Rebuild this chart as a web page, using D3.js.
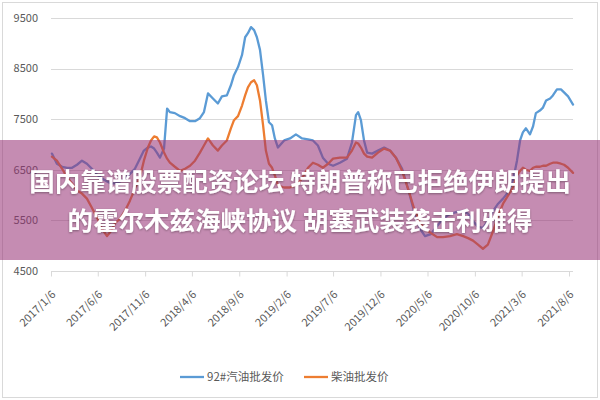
<!DOCTYPE html>
<html>
<head>
<meta charset="utf-8">
<script src="https://cdn.jsdelivr.net/npm/d3@7"></script>
<style>
html,body{margin:0;padding:0;background:#fff;}
svg{display:block;}
</style>
</head>
<body>
<svg id="chart" width="600" height="400"></svg>
<script>
// ---- data ----
const dates = ["2017-01-09","2017-01-25","2017-02-11","2017-02-27","2017-03-15","2017-03-31","2017-04-16","2017-05-02","2017-05-18","2017-06-04","2017-06-20","2017-07-06","2017-07-19","2017-08-01","2017-08-17","2017-09-02","2017-09-18","2017-10-04","2017-10-20","2017-11-02","2017-11-15","2017-11-25","2017-12-05","2017-12-14","2017-12-24","2018-01-06","2018-01-16","2018-01-25","2018-02-10","2018-02-27","2018-03-15","2018-03-31","2018-04-16","2018-05-02","2018-05-15","2018-05-28","2018-06-13","2018-06-29","2018-07-12","2018-07-28","2018-08-10","2018-08-20","2018-09-02","2018-09-15","2018-09-25","2018-10-04","2018-10-14","2018-10-24","2018-11-02","2018-11-12","2018-11-22","2018-12-01","2018-12-11","2018-12-21","2018-12-30","2019-01-09","2019-01-29","2019-02-17","2019-03-08","2019-03-28","2019-04-16","2019-05-02","2019-05-18","2019-06-03","2019-06-20","2019-07-06","2019-07-28","2019-08-20","2019-09-05","2019-09-18","2019-09-25","2019-10-04","2019-10-14","2019-10-24","2019-11-09","2019-11-28","2019-12-18","2020-01-06","2020-01-25","2020-02-14","2020-03-04","2020-03-23","2020-04-12","2020-04-28","2020-05-17","2020-06-06","2020-06-25","2020-07-18","2020-08-09","2020-08-29","2020-09-14","2020-09-30","2020-10-16","2020-11-01","2020-11-17","2020-12-04","2020-12-20","2021-01-05","2021-01-21","2021-02-06","2021-02-19","2021-03-01","2021-03-10","2021-03-20","2021-04-02","2021-04-12","2021-04-21","2021-05-04","2021-05-14","2021-05-24","2021-06-06","2021-06-15","2021-06-28","2021-07-11","2021-07-21","2021-08-03","2021-08-19"];

const gasoline92 = [6820,6620,6560,6540,6540,6600,6680,6620,6520,6400,6330,6270,6230,6230,6270,6330,6420,6520,6720,6880,6940,6960,6920,6840,6740,6920,7710,7640,7620,7560,7520,7460,7460,7520,7640,8010,7910,7810,7950,7970,8170,8370,8530,8770,9120,9200,9320,9260,9120,8870,8370,7870,7440,7380,7120,6940,7080,7120,7200,7120,7100,7080,6980,6740,6620,6580,6640,6720,7040,7580,7640,7480,7080,6840,6820,6880,6940,6880,6740,6520,6130,5690,5330,5190,5230,5390,5530,5630,5670,5690,5630,5490,5370,5350,5490,5690,5830,5930,6050,6290,6680,7080,7240,7320,7200,7360,7620,7670,7730,7870,7910,7970,8090,8090,8030,7950,7790];

const diesel = [6760,6680,6520,6350,6230,6090,6030,5930,5750,5550,5330,5190,5290,5450,5530,5690,5890,6130,6350,6680,6940,7080,7160,7140,7040,6840,6720,6640,6560,6480,6520,6580,6680,6840,6980,7120,6980,6880,6980,7080,7320,7480,7560,7770,7970,8130,8230,8270,8170,7870,7380,6880,6620,6540,6390,6190,6150,6150,6190,6330,6540,6640,6600,6540,6620,6720,6740,6740,6880,7040,7020,6940,6820,6760,6740,6840,6920,6880,6740,6480,6130,5750,5450,5330,5250,5170,5170,5190,5230,5190,5150,5100,5020,4940,5020,5290,5590,5830,5990,6150,6390,6480,6540,6500,6480,6540,6560,6560,6580,6580,6620,6640,6640,6620,6600,6540,6440];

const tickLabels = ["2017/1/6","2017/6/6","2017/11/6","2018/4/6","2018/9/6","2019/2/6","2019/7/6","2019/12/6","2020/5/6","2020/10/6","2021/3/6","2021/8/6"];
const yTicks = [4500,5500,6500,7500,8500,9500];
const seriesNames = ["92#汽油批发价","柴油批发价"];
const seriesColors = ["#5b9bd5","#ed7d31"];
const titleLines = ["国内靠谱股票配资论坛 特朗普称已拒绝伊朗提出","的霍尔木兹海峡协议 胡塞武装袭击利雅得"];

// ---- drawing ----
const svg = d3.select("#chart");
const parse = d3.timeParse("%Y-%m-%d");
const parseTick = d3.timeParse("%Y/%m/%d");
const tickDates = tickLabels.map(parseTick);

svg.append("rect").attr("x",2.5).attr("y",2.5).attr("width",595).attr("height",395)
  .attr("fill","#fff").attr("stroke","#d9d9d9").attr("stroke-width",1);

const x = d3.scaleTime().domain([tickDates[0], tickDates[tickDates.length-1]]).range([51, 569]);
const y = d3.scaleLinear().domain([4500, 9500]).range([271, 18]);
const xEnd = 573;

// gridlines
svg.append("g").selectAll("line").data(yTicks).join("line")
  .attr("x1",51).attr("x2",xEnd)
  .attr("y1",d=>Math.round(y(d))+0.5).attr("y2",d=>Math.round(y(d))+0.5)
  .attr("stroke","#d9d9d9").attr("stroke-width",1);

// y labels
svg.append("g").selectAll("text").data(yTicks).join("text")
  .attr("x",38).attr("y",d=>y(d)).attr("dy","0.35em")
  .attr("text-anchor","end")
  .attr("font-family","'Noto Sans CJK SC','Noto Sans',sans-serif")
  .attr("font-size",11).attr("fill","#595959")
  .text(d=>d);

// x axis
const xAxis = d3.axisBottom(x).tickValues(tickDates).tickSize(5).tickFormat((d,i)=>tickLabels[i]);
const gx = svg.append("g").attr("transform",`translate(0,${Math.round(y(4500))+0.5})`).call(xAxis);
gx.select(".domain").remove();
gx.selectAll(".tick line").attr("stroke","#d9d9d9");
gx.selectAll(".tick text")
  .attr("font-family","'Noto Sans CJK SC','Noto Sans',sans-serif")
  .attr("font-size",11).attr("fill","#595959")
  .attr("text-anchor","end")
  .attr("y",0).attr("dy","0.35em")
  .attr("transform","translate(2,21) rotate(-45)");

const data = dates.map((d,i)=>({date:parse(d), g:gasoline92[i], c:diesel[i]}));

const lineG = d3.line().x(d=>x(d.date)).y(d=>y(d.g)).curve(d3.curveLinear);
const lineC = d3.line().x(d=>x(d.date)).y(d=>y(d.c)).curve(d3.curveLinear);

svg.append("path").datum(data).attr("d",lineG).attr("fill","none")
  .attr("stroke",seriesColors[0]).attr("stroke-width",2.3)
  .attr("stroke-linejoin","round").attr("stroke-linecap","round");
svg.append("path").datum(data).attr("d",lineC).attr("fill","none")
  .attr("stroke",seriesColors[1]).attr("stroke-width",2.3)
  .attr("stroke-linejoin","round").attr("stroke-linecap","round");

// legend
const legendItems = [{x:180,label:seriesNames[0],color:seriesColors[0]},{x:304,label:seriesNames[1],color:seriesColors[1]}];
const lg = svg.append("g");
legendItems.forEach(it=>{
  lg.append("line").attr("x1",it.x).attr("x2",it.x+24).attr("y1",377).attr("y2",377)
    .attr("stroke",it.color).attr("stroke-width",2.3);
  lg.append("text").attr("x",it.x+27).attr("y",377).attr("dy","0.35em")
    .attr("font-family","'Noto Sans CJK SC','Noto Sans',sans-serif")
    .attr("font-size",11.5).attr("fill","#595959").text(it.label);
});

// overlay banner
svg.append("rect").attr("x",0).attr("y",140).attr("width",600).attr("height",120)
  .attr("fill","rgb(152,50,118)").attr("fill-opacity",0.56);

const defs = svg.append("defs");
const f = defs.append("filter").attr("id","ts").attr("x","-5%").attr("y","-20%").attr("width","110%").attr("height","140%");
f.append("feDropShadow").attr("dx",0).attr("dy",1).attr("stdDeviation",1).attr("flood-color","#000").attr("flood-opacity",0.35);

svg.append("g").selectAll("text").data(titleLines).join("text")
  .attr("x",300).attr("y",(d,i)=>182+i*39).attr("dy","0.35em")
  .attr("text-anchor","middle")
  .attr("font-family","'Noto Sans CJK SC',sans-serif")
  .attr("font-weight","bold").attr("font-size",25.5).attr("fill","#fff")
  .attr("filter","url(#ts)")
  .text(d=>d);
</script>
</body>
</html>
